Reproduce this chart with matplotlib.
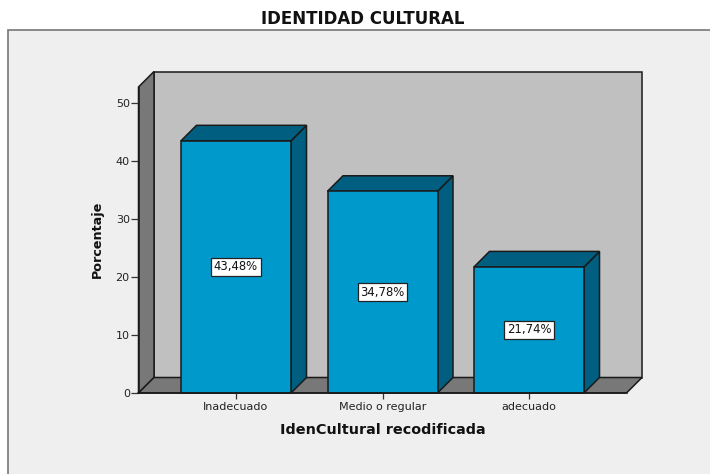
import matplotlib
matplotlib.use("Agg")
import matplotlib.pyplot as plt
from matplotlib.patches import Polygon, Rectangle

categories = ["Inadecuado", "Medio o regular", "adecuado"]
values = [43.48, 34.78, 21.74]
labels = ["43,48%", "34,78%", "21,74%"]
yticks = [0, 10, 20, 30, 40, 50]
title = "IDENTIDAD CULTURAL"
xlabel = "IdenCultural recodificada"
ylabel = "Porcentaje"

W, H = 710, 474
plt.rcParams['font.family'] = ['DejaVu Sans']
fig = plt.figure(figsize=(W/100, H/100), dpi=100, facecolor='white')

# panel
bg = fig.add_axes([0, 0, 1, 1], zorder=0)
bg.set_xlim(0, W); bg.set_ylim(H, 0); bg.axis('off')
bg.add_patch(Rectangle((8, 30), W + 20, H, fc='#efefef', ec='#777777', lw=1.2))
bg.text(363, 19, title, ha='center', va='center', fontsize=12, fontweight='bold', color='#111111')

# front plane in pixels
L, R, B, T = 138.5, 626.5, 393, 87
ax = fig.add_axes([L/W, 1-B/H, (R-L)/W, (B-T)/H], zorder=1)
ax.patch.set_alpha(0)
pxx = 146.5
pxy = 5.8
ax.set_xlim((L-236)/pxx, (R-236)/pxx)
ax.set_ylim(0, (B-T)/pxy)
dx = 15.5/pxx
dy = 15.5/pxy
x0, x1 = ax.get_xlim()
y0, y1 = ax.get_ylim()
EC = '#1a1a1a'
LW = 1.1
wall, side = '#c0c0c0', '#787878'
ax.add_patch(Polygon([(x0+dx, y0+dy), (x1+dx, y0+dy), (x1+dx, y1+dy), (x0+dx, y1+dy)], fc=wall, ec=EC, lw=LW, clip_on=False, zorder=1))
ax.add_patch(Polygon([(x0, y0), (x0+dx, y0+dy), (x0+dx, y1+dy), (x0, y1)], fc=side, ec=EC, lw=LW, clip_on=False, zorder=1))
ax.add_patch(Polygon([(x0, y0), (x1, y0), (x1+dx, y0+dy), (x0+dx, y0+dy)], fc=side, ec=EC, lw=LW, clip_on=False, zorder=1))

bw = 110/pxx
front, dark = '#0099cc', '#005f80'
for i, v in enumerate(values):
    a, b = i-bw/2, i+bw/2
    ax.add_patch(Polygon([(b, 0), (b+dx, dy), (b+dx, v+dy), (b, v)], fc=dark, ec=EC, lw=LW, clip_on=False, zorder=2))
    ax.add_patch(Polygon([(a, v), (b, v), (b+dx, v+dy), (a+dx, v+dy)], fc=dark, ec=EC, lw=LW, clip_on=False, zorder=2))
    ax.add_patch(Rectangle((a, 0), bw, v, fc=front, ec=EC, lw=LW, clip_on=False, zorder=3))
    ax.text(i, v/2, labels[i], ha='center', va='center', fontsize=8.4, color='#111111', zorder=5,
            bbox=dict(boxstyle='square,pad=0.23', fc='white', ec='#222222', lw=0.9))

for s in ['top', 'right']:
    ax.spines[s].set_visible(False)
for s in ['left', 'bottom']:
    ax.spines[s].set_color(EC)
    ax.spines[s].set_linewidth(1.1)
    ax.spines[s].set_zorder(4)
ax.set_yticks(yticks)
ax.set_xticks(range(3))
ax.set_xticklabels(categories)
ax.tick_params(axis='y', length=5.5, width=0.9, color='#333333', labelsize=8, labelcolor='#222222', pad=0.8)
ax.tick_params(axis='x', length=4.3, width=0.9, color='#333333', labelsize=8, labelcolor='#222222', pad=2)
bg.text(383, 429.5, xlabel, ha='center', va='center', fontsize=10.4, fontweight='bold', color='#111111')
bg.text(97.5, 239.5, ylabel, ha='center', va='center', rotation=90, fontsize=9.2, fontweight='bold', color='#111111')

fig.savefig('out.png', dpi=100)
